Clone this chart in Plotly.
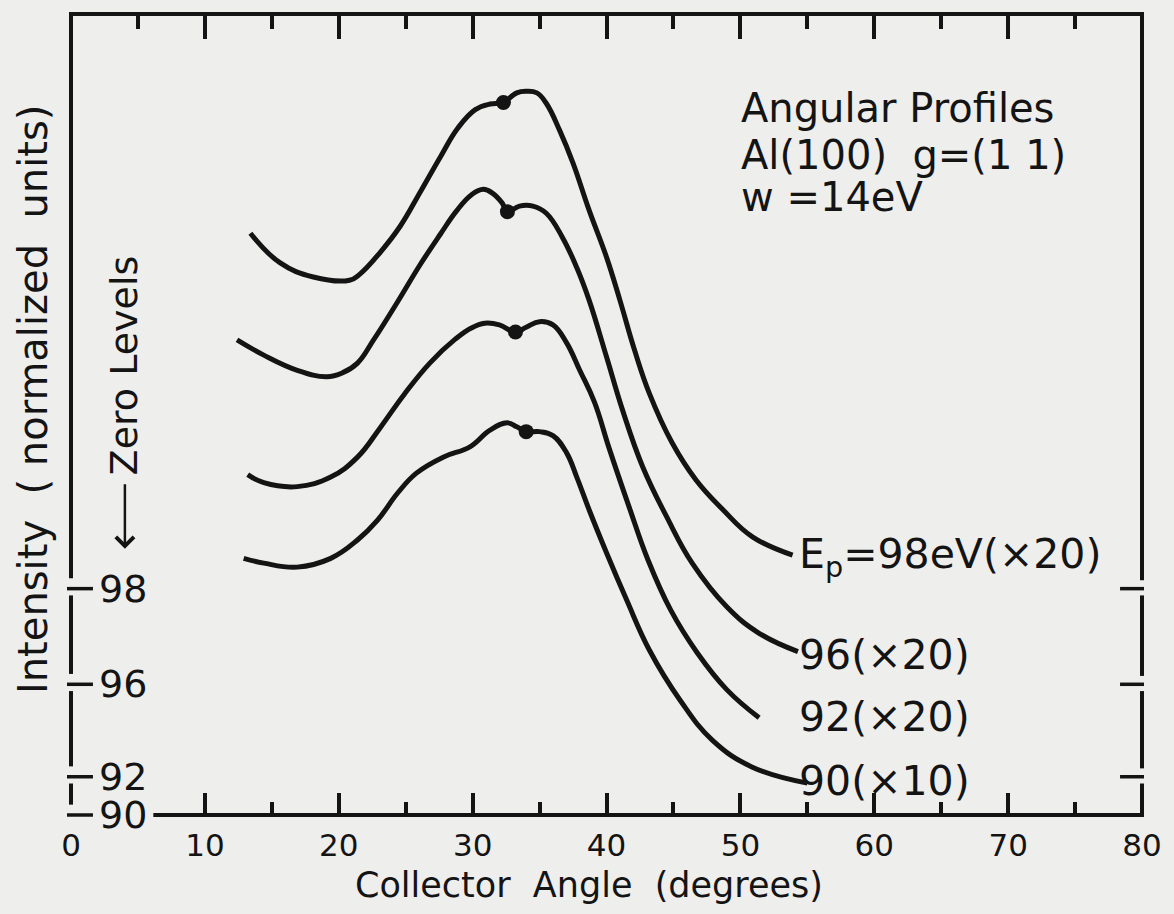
import plotly.graph_objects as go

# Collector angle (degrees) and intensity above each curve's own zero level
ang_98 = [13.4, 15.6, 18.1, 20.8, 21.6, 23.1, 24.6, 26.1, 27.6, 28.9, 30.2, 31.3, 32.0, 32.3,
          33.3, 34.0, 34.8, 35.5, 36.5, 37.5, 38.7, 40.0, 41.0, 42.1, 43.2, 44.9, 46.7, 48.7,
          50.9, 53.9]
int_98 = [44.6, 40.9, 39.1, 38.7, 39.5, 42.2, 45.5, 49.8, 54.2, 57.8, 60.1, 60.8, 60.9, 61.0,
          62.2, 62.4, 62.2, 60.9, 57.5, 53.4, 47.5, 41.6, 36.2, 29.9, 24.5, 18.3, 13.6, 9.9,
          6.5, 4.2]

ang_96 = [12.4, 14.4, 16.9, 19.1, 20.3, 21.4, 22.6, 24.4, 26.1, 27.6, 28.8, 29.9, 30.8, 31.5,
          32.2, 32.6, 33.5, 34.5, 35.5, 36.7, 37.8, 38.7, 40.0, 41.2, 42.7, 44.5, 46.4, 49.0,
          51.4, 54.3]
int_96 = [43.2, 41.3, 39.4, 38.6, 39.1, 40.3, 43.2, 48.0, 52.7, 56.5, 59.4, 61.4, 62.1, 61.6,
          60.4, 59.3, 60.0, 60.0, 59.1, 56.1, 52.2, 48.2, 41.1, 34.4, 27.3, 21.0, 15.2, 9.7,
          6.4, 4.1]

ang_92 = [13.2, 14.4, 16.9, 19.4, 21.4, 23.1, 24.9, 26.8, 28.7, 29.9, 30.9, 32.0, 33.2, 34.0,
          35.0, 36.0, 37.0, 38.0, 39.1, 40.2, 41.7, 43.1, 44.8, 46.8, 49.0, 51.4]
int_92 = [37.9, 36.9, 36.4, 37.6, 40.1, 43.8, 48.0, 51.9, 54.9, 56.3, 56.9, 56.7, 55.8, 56.4,
          57.1, 56.7, 54.5, 51.0, 47.0, 41.2, 33.8, 27.2, 20.9, 15.5, 10.9, 7.4]

ang_90 = [12.9, 14.4, 16.9, 19.4, 21.4, 22.9, 24.4, 25.8, 27.8, 29.8, 31.3, 32.6, 33.3, 34.0,
          35.0, 36.0, 37.0, 37.8, 38.7, 40.0, 41.5, 43.2, 45.5, 47.9, 50.9, 55.0]
int_90 = [32.2, 31.6, 31.1, 32.2, 34.5, 37.0, 40.4, 42.9, 44.9, 46.2, 48.3, 49.2, 48.7, 48.1,
          48.1, 47.6, 45.5, 42.3, 38.3, 32.9, 27.0, 20.7, 14.4, 9.4, 6.0, 4.0]

# Beam energies (eV), display scale factors and the zero level of each profile
energies = ["98", "96", "92", "90"]
scales = ["×20", "×20", "×20", "×10"]
zero_levels = [28.4, 16.4, 4.8, 0.0]

# Marked points on each profile (angle, intensity above zero)
dot_ang = [32.3, 32.6, 33.2, 34.0]
dot_int = [61.0, 59.3, 55.8, 48.1]

x_ticks = [0, 10, 20, 30, 40, 50, 60, 70, 80]

profiles = [(ang_98, int_98), (ang_96, int_96), (ang_92, int_92), (ang_90, int_90)]

INK = "#141414"
PAPER = "#eeeeec"
FONT = "DejaVu Sans"
Y_TOP = 100.5
X_MAX = 80.0
PLOT_W, PLOT_H = 1073, 801

fig = go.Figure()

for (ang, inten), z in zip(profiles, zero_levels):
    fig.add_trace(go.Scatter(
        x=ang, y=[z + v for v in inten], mode="lines",
        line=dict(color=INK, width=5, shape="spline", smoothing=1.2),
        showlegend=False, hoverinfo="skip"))

fig.add_trace(go.Scatter(
    x=dot_ang, y=[z + v for z, v in zip(zero_levels, dot_int)], mode="markers",
    marker=dict(color=INK, size=15), showlegend=False, hoverinfo="skip"))

# empty traces so the overlay axes get drawn
fig.add_trace(go.Scatter(x=[], y=[], xaxis="x2", yaxis="y", showlegend=False))
fig.add_trace(go.Scatter(x=[], y=[], xaxis="x3", yaxis="y", showlegend=False))

major = [10, 20, 30, 40, 50, 60, 70]
minor_bottom = [15, 25, 35, 45, 55, 65, 75]
minor_top = [5, 15, 25, 35, 45, 55, 65, 75]

fig.update_layout(
    width=1174, height=914,
    margin=dict(l=71, r=30, t=14, b=99),
    paper_bgcolor=PAPER, plot_bgcolor=PAPER,
    font=dict(family=FONT, color=INK),
    xaxis=dict(range=[0, X_MAX], showgrid=False, zeroline=False, showline=False,
               tickmode="array", tickvals=x_ticks, ticktext=[str(v) for v in x_ticks],
               ticks="", ticklabelstandoff=9,
               tickfont=dict(size=31, family=FONT, color=INK)),
    xaxis2=dict(range=[0, X_MAX], overlaying="x", side="bottom", showgrid=False,
                zeroline=False, showline=False, showticklabels=False,
                tickmode="array", tickvals=major, ticks="inside", ticklen=22,
                tickwidth=3.5, tickcolor=INK,
                minor=dict(tickmode="array", tickvals=minor_bottom, ticks="inside",
                           ticklen=13, tickwidth=3.5, tickcolor=INK, showgrid=False)),
    xaxis3=dict(range=[0, X_MAX], overlaying="x", side="top", showgrid=False,
                zeroline=False, showline=False, showticklabels=False,
                tickmode="array", tickvals=major, ticks="inside", ticklen=25,
                tickwidth=3.5, tickcolor=INK,
                minor=dict(tickmode="array", tickvals=minor_top, ticks="inside",
                           ticklen=15, tickwidth=3.5, tickcolor=INK, showgrid=False)),
    yaxis=dict(range=[0, Y_TOP], showgrid=False, zeroline=False, showline=False,
               showticklabels=False, ticks=""),
)

# zero-level labels sit just inside the left edge, beside their tick dashes
for e, z in zip(energies, zero_levels):
    fig.add_annotation(x=(97 - 71) / PLOT_W, y=z, xref="paper", yref="y", text=e,
                       showarrow=False, xanchor="left", yanchor="middle",
                       font=dict(size=38, family=FONT, color=INK))

# frame: full top edge, bottom edge starting after the "90" label,
# broken side edges with gaps around each zero-level dash
frame = dict(color=INK, width=4)
dash = dict(color=INK, width=3.5)
ox, oy = 2 / PLOT_W, 2 / PLOT_H


def seg(x0, x1, y0, y1, style=frame):
    fig.add_shape(type="line", xref="x domain", yref="y domain",
                  x0=x0, x1=x1, y0=y0, y1=y1, line=style)


seg(-ox, 1 + ox, 1, 1)
seg(6.15 / X_MAX, 1 + ox, 0, 0)

gap_up, gap_dn = 1.3, 1.1
left_runs = [(zero_levels[0] + gap_up, Y_TOP)]
right_runs = [(zero_levels[0] + gap_up, Y_TOP)]
for hi, lo in zip(zero_levels[:-1], zero_levels[1:]):
    left_runs.append((lo + gap_up, hi - gap_dn))
for hi, lo in zip(zero_levels[:-2], zero_levels[1:-1]):
    right_runs.append((lo + gap_up, hi - gap_dn))
right_runs.append((0, zero_levels[-2] - gap_dn))
for y0, y1 in left_runs:
    seg(0, 0, y0 / Y_TOP, min(y1 / Y_TOP + oy, 1 + oy))
for y0, y1 in right_runs:
    seg(1, 1, max(y0 / Y_TOP - oy, -oy), min(y1 / Y_TOP + oy, 1 + oy))

# zero-level dashes on both side edges
for z in zero_levels:
    seg(-4 / PLOT_W, 22 / PLOT_W, z / Y_TOP, z / Y_TOP, dash)
for z in zero_levels[:-1]:
    seg(1 - 22 / PLOT_W, 1 + 2 / PLOT_W, z / Y_TOP, z / Y_TOP, dash)

# curve labels at the right-hand ends
label_y = [32.4, 20.1, 12.3, 4.3]
for i, (e, s) in enumerate(zip(energies, scales)):
    txt = f"E<sub>p</sub>={e}eV({s})" if i == 0 else f"{e}({s})"
    fig.add_annotation(x=54.2, y=label_y[i], xref="x", yref="y", text=txt,
                       showarrow=False, xanchor="left", yanchor="middle",
                       font=dict(size=41, family=FONT, color=INK))

# descriptive text block
for txt, yy in [("Angular Profiles", 88.7),
                ("Al(100)\u00a0\u00a0g=(1\u00a01)", 82.8),
                ("w\u00a0=14eV", 77.5)]:
    fig.add_annotation(x=49.9, y=yy, xref="x", yref="y", text=txt, showarrow=False,
                       xanchor="left", yanchor="middle",
                       font=dict(size=40, family=FONT, color=INK))

# axis titles
fig.add_annotation(x=(590 - 71) / PLOT_W, y=-0.0875, xref="paper", yref="paper",
                   text="Collector\u00a0 Angle\u00a0 (degrees)", showarrow=False,
                   xanchor="center", yanchor="middle",
                   font=dict(size=35, family=FONT, color=INK))
fig.add_annotation(x=(33 - 71) / PLOT_W, y=52.2, xref="paper", yref="y",
                   text="Intensity\u00a0 (\u00a0normalized\u00a0 units)", showarrow=False,
                   textangle=-90, xanchor="center", yanchor="middle",
                   font=dict(size=40, family=FONT, color=INK))

# zero-level marker text with its downward arrow
fig.add_annotation(x=(125 - 71) / PLOT_W, y=56.4, xref="paper", yref="y",
                   text="Zero\u00a0Levels", showarrow=False, textangle=-90,
                   xanchor="center", yanchor="middle",
                   font=dict(size=38, family=FONT, color=INK))
fig.add_annotation(x=(125 - 71) / PLOT_W, y=33.4, xref="paper", yref="y",
                   ax=0, ay=-66, text="", showarrow=True, arrowhead=4,
                   arrowsize=1.4, arrowwidth=2.5, arrowcolor=INK)

fig.add_annotation(x=80.2, y=-0.128, xref="x", yref="paper", text="SS-917",
                   showarrow=False, xanchor="right", yanchor="middle",
                   font=dict(size=17, family=FONT, color=INK))

fig.write_html("out.html")
